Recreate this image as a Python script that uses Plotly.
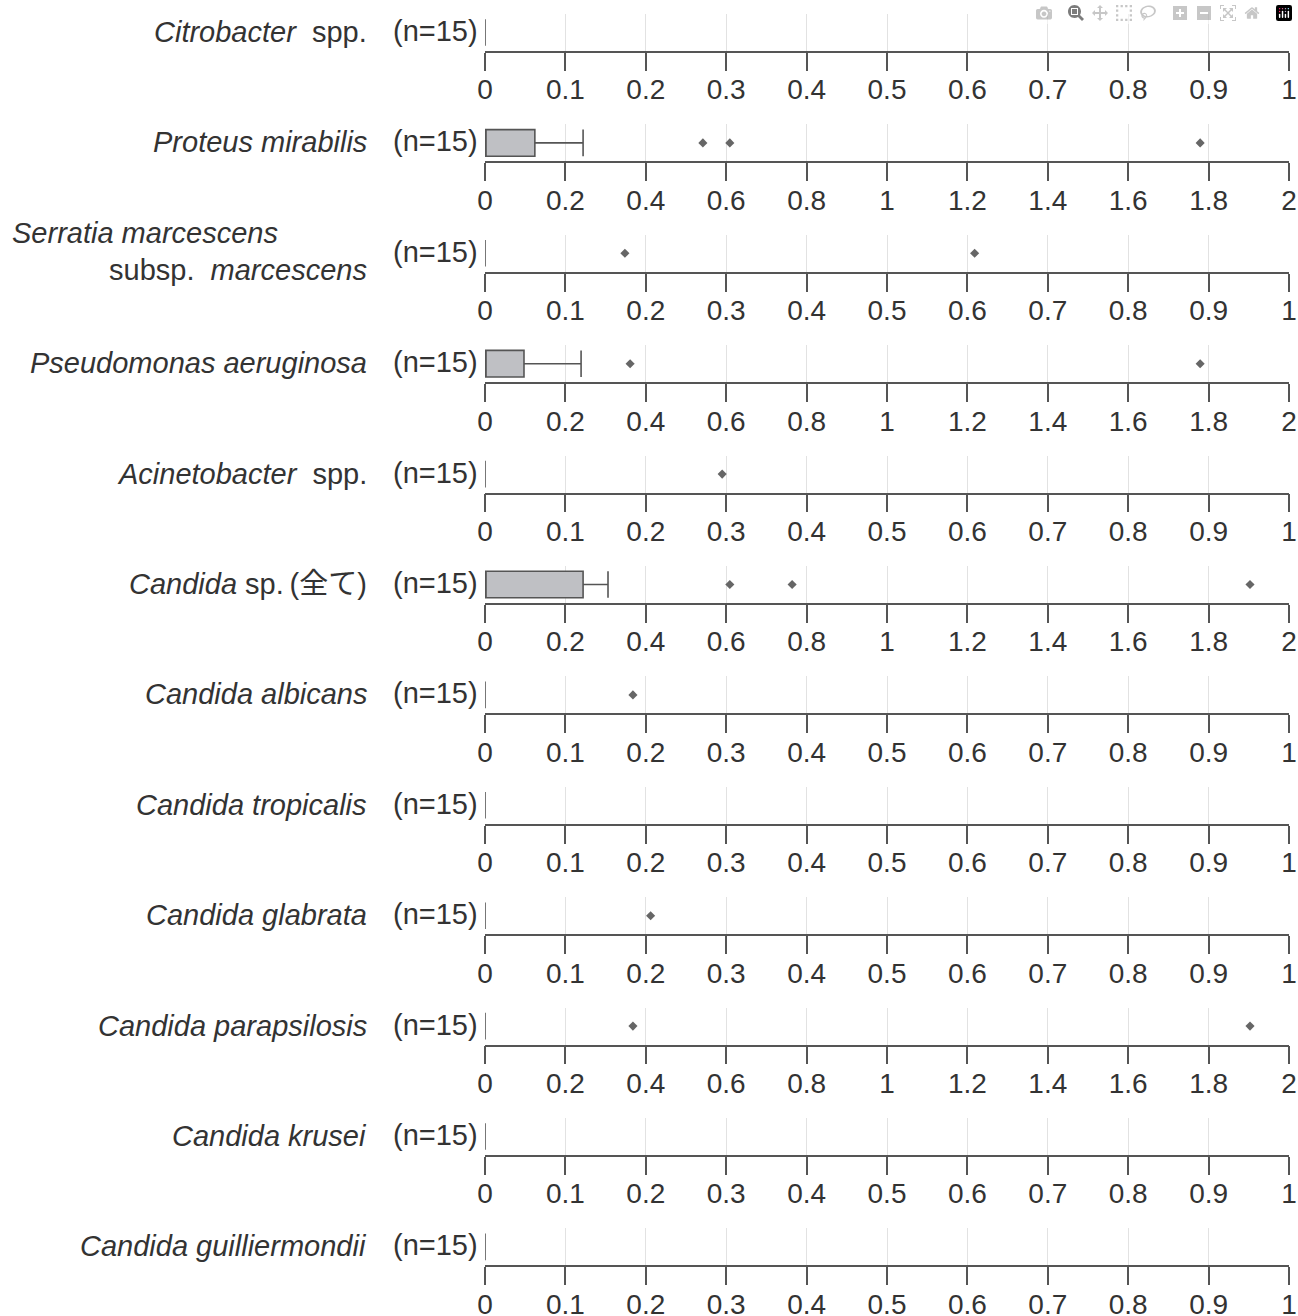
import plotly.graph_objects as go

# species rows, top to bottom
labels = ['<i>Citrobacter</i>  spp.', '<i>Proteus mirabilis</i>', 'Serratia marcescens subsp. marcescens',
          '<i>Pseudomonas aeruginosa</i>', '<i>Acinetobacter</i>  spp.', '<i>Candida</i> sp.\u2009(全て)',
          '<i>Candida albicans</i>', '<i>Candida tropicalis</i>', '<i>Candida glabrata</i>',
          '<i>Candida parapsilosis</i>', '<i>Candida krusei</i>', '<i>Candida guilliermondii</i>']
n_text = '(n=15)'

q1 = [0, 0, 0, 0, 0, 0, 0, 0, 0, 0, 0, 0]
median = [0, 0, 0, 0, 0, 0, 0, 0, 0, 0, 0, 0]
q3 = [0, 0.124, 0, 0.097, 0, 0.244, 0, 0, 0, 0, 0, 0]
upper = [0, 0.244, 0, 0.239, 0, 0.306, 0, 0, 0, 0, 0, 0]
outliers = [[], [0.542, 0.609, 1.779], [0.174, 0.609], [0.361, 1.779], [0.295],
            [0.609, 0.764, 1.903], [0.184], [], [0.206], [0.368, 1.903], [], []]
x_max = [1, 2, 1, 2, 1, 2, 1, 1, 1, 2, 1, 1]

# body margin is removed in the page, so figure pixels == reference pixels
W, H = 1298, 1316
x0_px, x1_px = 485, 1289
row_pitch = 110.4
font = 'Liberation Sans, Arial, Noto Sans CJK JP, sans-serif'
text_col = '#333333'
line_col = '#555555'

fig = go.Figure()
layout = {}
annotations = []


def px_x(x):
    return x / W


def px_y(y):
    return 1 - y / H


for i in range(len(labels)):
    ax = '' if i == 0 else str(i + 1)
    top = 14 + row_pitch * i
    bot = 51 + row_pitch * i

    fig.add_trace(go.Box(
        orientation='h', y=[0], q1=[q1[i]], median=[median[i]], q3=[q3[i]],
        lowerfence=[q1[i]], upperfence=[upper[i]], width=0.72, whiskerwidth=1,
        fillcolor='#bfc0c4', line=dict(color=line_col, width=1.6),
        boxpoints=False, showlegend=False, xaxis='x' + ax, yaxis='y' + ax))
    if outliers[i]:
        fig.add_trace(go.Scatter(
            x=outliers[i], y=[0] * len(outliers[i]), mode='markers',
            marker=dict(symbol='diamond', size=7, color='#666666'),
            showlegend=False, xaxis='x' + ax, yaxis='y' + ax))

    layout['xaxis' + ax] = dict(
        domain=[px_x(x0_px), px_x(x1_px)], anchor='y' + ax, range=[0, x_max[i]],
        dtick=x_max[i] / 10, showgrid=True, gridcolor='#e2e2e2', gridwidth=1,
        zeroline=False, showline=True, linecolor=line_col, linewidth=1.5,
        ticks='outside', ticklen=18, tickwidth=1.5, tickcolor=line_col,
        ticklabelstandoff=-5, automargin=False, ticklabeloverflow='allow',
        tickfont=dict(family=font, size=28, color=text_col))
    layout['yaxis' + ax] = dict(
        domain=[px_y(bot), px_y(top)], anchor='x' + ax, range=[-0.5, 0.5],
        visible=False, automargin=False)

    yc = 32 + row_pitch * i
    if i == 2:
        annotations.append(dict(text='<i>Serratia marcescens</i>', x=px_x(10), y=px_y(233),
                                xanchor='left', yanchor='middle'))
        annotations.append(dict(text='subsp.\u00a0 <i>marcescens</i>', x=px_x(369), y=px_y(270),
                                xanchor='right', yanchor='middle'))
    else:
        annotations.append(dict(text=labels[i].replace('  ', '\u00a0 '), x=px_x(369), y=px_y(yc),
                                xanchor='right', yanchor='middle'))
    annotations.append(dict(text=n_text, x=px_x(480), y=px_y(yc - 1),
                            xanchor='right', yanchor='middle'))

for a in annotations:
    a.update(xref='paper', yref='paper', showarrow=False,
             font=dict(family=font, size=29, color=text_col))

fig.update_layout(**layout)
fig.update_layout(
    width=W, height=H, margin=dict(l=0, r=0, t=0, b=0, autoexpand=False),
    plot_bgcolor='white', paper_bgcolor='white',
    annotations=annotations)

# drop the default 8px body margin so the figure fills the window exactly
fig.write_html('out.html',
               post_script="document.body.style.margin='0';document.body.style.overflow='hidden';")
